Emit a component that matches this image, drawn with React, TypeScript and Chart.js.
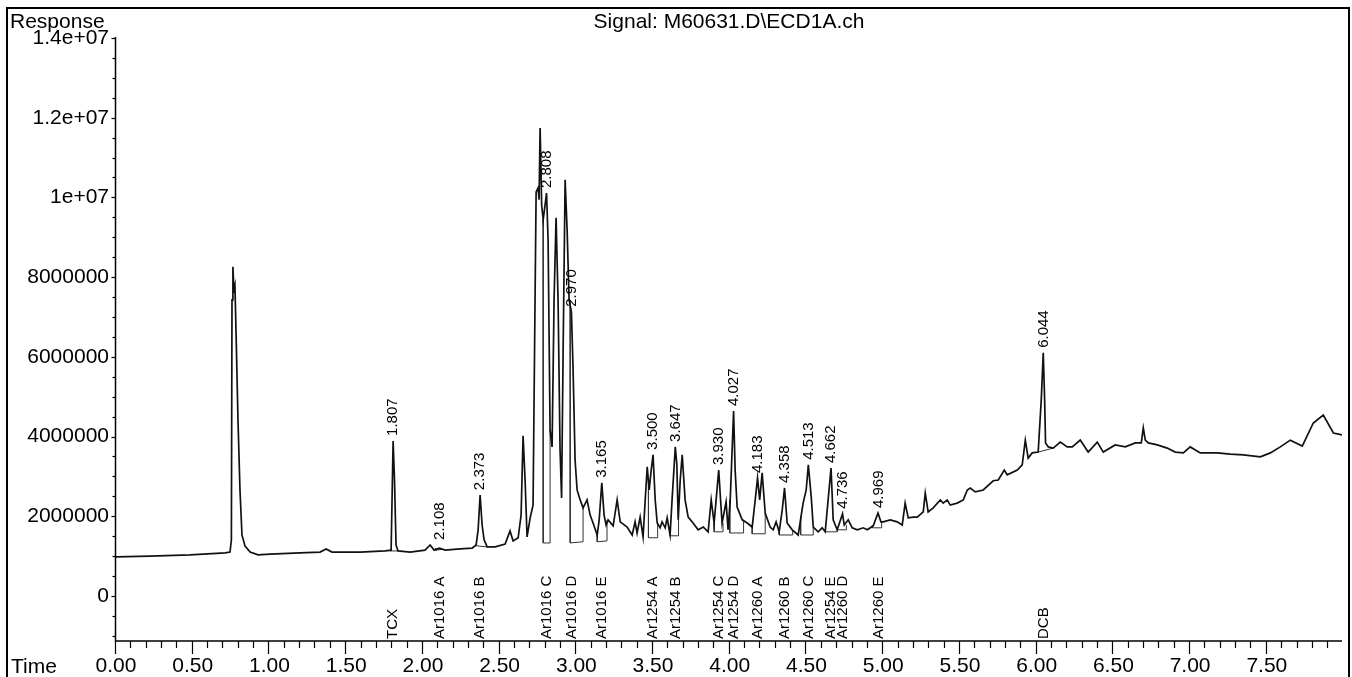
import { useEffect, useRef } from "react";
import { Chart, registerables } from "chart.js";

Chart.register(...registerables);

const FONT = '"Liberation Sans", Arial, Helvetica, sans-serif';
const TITLE = "Signal: M60631.D\\ECD1A.ch";

// ECD trace: retention time (min)
const times = [
  0.0, 0.222, 0.482, 0.711, 0.743, 0.752, 0.756, 0.762, 0.768, 0.775, 0.782, 0.795, 0.808, 0.821, 0.841, 0.874,
  0.926, 1.004, 1.199, 1.33, 1.369, 1.408, 1.591, 1.754, 1.793, 1.799, 1.806, 1.815, 1.825, 1.838, 1.917, 2.014,
  2.047, 2.073, 2.108, 2.145, 2.243, 2.321, 2.347, 2.36, 2.373, 2.386, 2.399, 2.419, 2.471, 2.536, 2.568, 2.588,
  2.621, 2.64, 2.653, 2.666, 2.679, 2.699, 2.718, 2.731, 2.738, 2.751, 2.757, 2.764, 2.774, 2.784, 2.806, 2.816,
  2.829, 2.842, 2.855, 2.868, 2.881, 2.894, 2.904, 2.914, 2.927, 2.94, 2.953, 2.968, 2.979, 2.992, 3.005, 3.025,
  3.044, 3.07, 3.09, 3.109, 3.136, 3.149, 3.166, 3.181, 3.194, 3.207, 3.24, 3.266, 3.286, 3.331, 3.364, 3.383,
  3.396, 3.416, 3.435, 3.449, 3.462, 3.475, 3.488, 3.5, 3.514, 3.527, 3.546, 3.559, 3.579, 3.592, 3.611, 3.624,
  3.645, 3.655, 3.664, 3.677, 3.69, 3.709, 3.729, 3.761, 3.794, 3.827, 3.859, 3.879, 3.898, 3.911, 3.928, 3.94,
  3.95, 3.976, 3.989, 4.003, 4.025, 4.035, 4.048, 4.081, 4.114, 4.146, 4.166, 4.181, 4.195, 4.211, 4.231, 4.263,
  4.283, 4.302, 4.322, 4.342, 4.357, 4.374, 4.407, 4.446, 4.478, 4.498, 4.512, 4.531, 4.544, 4.576, 4.602, 4.622,
  4.641, 4.66, 4.674, 4.7, 4.735, 4.746, 4.772, 4.798, 4.831, 4.87, 4.896, 4.935, 4.966, 4.985, 5.0, 5.046,
  5.091, 5.124, 5.143, 5.163, 5.196, 5.222, 5.261, 5.274, 5.293, 5.326, 5.372, 5.391, 5.417, 5.437, 5.482, 5.522,
  5.548, 5.567, 5.6, 5.652, 5.717, 5.75, 5.789, 5.808, 5.874, 5.906, 5.926, 5.945, 5.971, 6.01, 6.03, 6.043,
  6.052, 6.058, 6.076, 6.108, 6.154, 6.199, 6.232, 6.284, 6.336, 6.395, 6.434, 6.512, 6.578, 6.643, 6.682, 6.695,
  6.708, 6.728, 6.786, 6.851, 6.903, 6.956, 7.001, 7.066, 7.177, 7.262, 7.347, 7.458, 7.523, 7.588, 7.653, 7.731,
  7.803, 7.868, 7.934, 7.99,
];

// ECD trace: detector response
const responses = [
  0.98e6, 1.0e6, 1.03e6, 1.08e6, 1.1e6, 1.41e6, 7.43e6, 8.26e6, 7.68e6, 7.8e6, 6.68e6, 4.42e6, 2.66e6, 1.53e6, 1.25e6, 1.1e6,
  1.03e6, 1.05e6, 1.08e6, 1.1e6, 1.18e6, 1.1e6, 1.1e6, 1.13e6, 1.15e6, 2.41e6, 3.89e6, 2.91e6, 1.28e6, 1.13e6, 1.1e6, 1.15e6,
  1.28e6, 1.15e6, 1.2e6, 1.15e6, 1.18e6, 1.2e6, 1.28e6, 1.66e6, 2.53e6, 1.78e6, 1.41e6, 1.23e6, 1.23e6, 1.3e6, 1.63e6, 1.38e6,
  1.46e6, 2.03e6, 4.02e6, 2.91e6, 1.48e6, 1.96e6, 2.28e6, 7.43e6, 10.14e6, 10.24e6, 9.94e6, 11.74e6, 9.81e6, 9.44e6, 10.11e6, 8.93e6,
  4.17e6, 3.74e6, 7.43e6, 9.49e6, 7.43e6, 3.66e6, 2.46e6, 6.17e6, 10.44e6, 9.18e6, 7.43e6, 7.13e6, 5.67e6, 3.41e6, 2.66e6, 2.41e6,
  2.21e6, 2.41e6, 2.03e6, 1.83e6, 1.53e6, 1.91e6, 2.84e6, 2.03e6, 1.78e6, 1.91e6, 1.76e6, 2.41e6, 1.86e6, 1.73e6, 1.53e6, 1.86e6,
  1.58e6, 1.98e6, 1.48e6, 2.41e6, 3.24e6, 2.66e6, 3.16e6, 3.54e6, 2.41e6, 1.83e6, 1.71e6, 1.86e6, 1.71e6, 1.96e6, 1.53e6, 2.41e6,
  3.74e6, 3.3e6, 1.91e6, 2.91e6, 3.54e6, 2.41e6, 1.98e6, 1.83e6, 1.66e6, 1.73e6, 1.61e6, 2.41e6, 1.83e6, 2.41e6, 3.16e6, 2.41e6,
  1.83e6, 2.36e6, 1.66e6, 2.41e6, 4.64e6, 3.16e6, 2.23e6, 1.91e6, 1.83e6, 1.73e6, 2.41e6, 2.96e6, 2.41e6, 3.09e6, 2.08e6, 1.73e6,
  1.66e6, 1.86e6, 1.61e6, 2.16e6, 2.71e6, 1.83e6, 1.66e6, 1.53e6, 2.33e6, 2.66e6, 3.29e6, 2.48e6, 1.73e6, 1.61e6, 1.71e6, 1.61e6,
  2.41e6, 3.21e6, 1.91e6, 1.66e6, 2.06e6, 1.78e6, 1.91e6, 1.71e6, 1.66e6, 1.71e6, 1.66e6, 1.76e6, 2.08e6, 1.86e6, 1.86e6, 1.91e6,
  1.86e6, 1.78e6, 2.33e6, 1.96e6, 1.98e6, 1.98e6, 2.11e6, 2.58e6, 2.11e6, 2.21e6, 2.41e6, 2.33e6, 2.41e6, 2.28e6, 2.33e6, 2.41e6,
  2.66e6, 2.71e6, 2.61e6, 2.66e6, 2.89e6, 2.91e6, 3.16e6, 3.04e6, 3.16e6, 3.29e6, 3.91e6, 3.46e6, 3.59e6, 3.61e6, 4.92e6, 6.1e6,
  4.92e6, 3.84e6, 3.74e6, 3.71e6, 3.86e6, 3.74e6, 3.74e6, 3.91e6, 3.61e6, 3.86e6, 3.61e6, 3.79e6, 3.74e6, 3.84e6, 3.84e6, 4.22e6,
  3.91e6, 3.84e6, 3.79e6, 3.71e6, 3.61e6, 3.59e6, 3.74e6, 3.59e6, 3.59e6, 3.56e6, 3.54e6, 3.49e6, 3.59e6, 3.74e6, 3.91e6, 3.76e6,
  4.34e6, 4.54e6, 4.09e6, 4.04e6,
];

// Integrated peaks: retention time label and apex height
const peakTimes = [1.807, 2.108, 2.373, 2.808, 2.97, 3.165, 3.5, 3.647, 3.93, 4.027, 4.183, 4.358, 4.513, 4.662, 4.736, 4.969, 6.044];
const peakHeights = [3.89e6, 1.28e6, 2.53e6, 10.11e6, 7.13e6, 2.84e6, 3.54e6, 3.74e6, 3.16e6, 4.64e6, 2.96e6, 2.71e6, 3.29e6, 3.21e6, 2.06e6, 2.08e6, 6.1e6];

// Compound identifications written along the time axis
const compoundNames = [
  "TCX", "Ar1016 A", "Ar1016 B", "Ar1016 C", "Ar1016 D", "Ar1016 E", "Ar1254 A", "Ar1254 B", "Ar1254 C",
  "Ar1254 D", "Ar1260 A", "Ar1260 B", "Ar1260 C", "Ar1254 E", "Ar1260 D", "Ar1260 E", "DCB",
];
const compoundTimes = [1.807, 2.108, 2.373, 2.808, 2.97, 3.165, 3.5, 3.647, 3.93, 4.027, 4.183, 4.358, 4.513, 4.662, 4.736, 4.969, 6.044];

// Integration events: start/end times, baseline levels and trace level at each end
const intStart = [1.786, 2.085, 2.345, 2.784, 2.96, 3.136, 3.47, 3.611, 3.898, 4.0, 4.146, 4.322, 4.462, 4.622, 4.7, 4.93, 6.01];
const intEnd = [1.838, 2.13, 2.42, 2.829, 3.044, 3.2, 3.53, 3.666, 3.956, 4.09, 4.231, 4.41, 4.544, 4.7, 4.76, 4.99, 6.108];
const intBaseStart = [1.13e6, 1.15e6, 1.26e6, 1.33e6, 1.33e6, 1.36e6, 1.46e6, 1.51e6, 1.61e6, 1.58e6, 1.56e6, 1.53e6, 1.53e6, 1.61e6, 1.66e6, 1.71e6, 3.61e6];
const intBaseEnd = [1.13e6, 1.17e6, 1.23e6, 1.33e6, 1.36e6, 1.38e6, 1.46e6, 1.51e6, 1.61e6, 1.58e6, 1.56e6, 1.53e6, 1.53e6, 1.61e6, 1.66e6, 1.71e6, 3.71e6];
const intSigStart = [1.15e6, 1.2e6, 1.28e6, 9.44e6, 7.4e6, 1.53e6, 2.9e6, 1.53e6, 1.83e6, 2.41e6, 1.73e6, 1.61e6, 2.0e6, 1.61e6, 1.66e6, 1.76e6, 3.61e6];
const intSigEnd = [1.13e6, 1.16e6, 1.23e6, 4.17e6, 2.21e6, 1.9e6, 1.83e6, 2.05e6, 1.83e6, 1.91e6, 2.08e6, 1.66e6, 1.73e6, 1.66e6, 1.78e6, 1.86e6, 3.71e6];

// Labelled axis ticks
const xTickValues = [0, 0.5, 1, 1.5, 2, 2.5, 3, 3.5, 4, 4.5, 5, 5.5, 6, 6.5, 7, 7.5];
const yTickValues = [0, 2e6, 4e6, 6e6, 8e6, 1e7, 1.2e7, 1.4e7];

const X_MIN = 0;
const X_MAX = 7.99;
const Y_MIN = -1.13e6;
const Y_MAX = 1.4e7;

function formatResponse(v: number): string {
  if (v === 0) return "0";
  if (Math.abs(v) >= 1e7) return v.toExponential().replace(/e\+(\d)$/, "e+0$1");
  return String(Math.round(v));
}

const framePlugin = {
  id: "frame",
  beforeDraw(chart: any) {
    const { ctx, width, height } = chart;
    ctx.save();
    ctx.fillStyle = "#fff";
    ctx.fillRect(0, 0, width, height);
    ctx.restore();
  },
  afterDraw(chart: any) {
    const { ctx, chartArea: a, scales } = chart;
    const x = scales.x;
    const y = scales.y;
    ctx.save();
    ctx.strokeStyle = "#000";
    ctx.fillStyle = "#000";

    // page frame
    ctx.lineWidth = 2;
    ctx.beginPath();
    ctx.moveTo(7, 677);
    ctx.lineTo(7, 8);
    ctx.lineTo(1349, 8);
    ctx.lineTo(1349, 677);
    ctx.stroke();

    // axes
    ctx.lineWidth = 1.5;
    ctx.beginPath();
    ctx.moveTo(a.left - 0.5, a.top - 1);
    ctx.lineTo(a.left - 0.5, a.bottom);
    ctx.lineTo(a.right, a.bottom);
    ctx.stroke();

    // time ticks: every 0.1 min, longer every 0.5 min
    ctx.lineWidth = 1.2;
    const nX = Math.floor((X_MAX - X_MIN) * 10 + 1e-6);
    for (let k = 0; k <= nX; k++) {
      const px = Math.round(x.getPixelForValue(X_MIN + k / 10)) - 0.5;
      const len = k % 5 === 0 ? 13 : 7;
      ctx.beginPath();
      ctx.moveTo(px, a.bottom);
      ctx.lineTo(px, a.bottom + len);
      ctx.stroke();
    }

    // response ticks: every 5e5, longer every 2e6
    for (let v = Math.ceil(Y_MIN / 5e5) * 5e5; v <= Y_MAX + 1; v += 5e5) {
      const py = Math.round(y.getPixelForValue(v)) + 0.5;
      const len = Math.abs(v % 2e6) < 1 ? 4 : 3;
      ctx.beginPath();
      ctx.moveTo(a.left - 0.5, py);
      ctx.lineTo(a.left - 0.5 - len, py);
      ctx.stroke();
    }

    // header and axis captions
    ctx.font = `21px ${FONT}`;
    ctx.textBaseline = "alphabetic";
    ctx.textAlign = "left";
    ctx.fillText("Response", 10, 28);
    ctx.textAlign = "center";
    ctx.fillText(TITLE, (a.left + a.right) / 2, 28);
    ctx.textAlign = "left";
    ctx.textBaseline = "middle";
    ctx.fillText("Time", 11, 667);

    // retention-time labels above the integrated peaks
    ctx.font = `15px ${FONT}`;
    ctx.textAlign = "left";
    ctx.textBaseline = "middle";
    peakTimes.forEach((t, i) => {
      const px = x.getPixelForValue(t);
      const py = y.getPixelForValue(peakHeights[i]) - 5;
      ctx.save();
      ctx.translate(px, py);
      ctx.rotate(-Math.PI / 2);
      ctx.fillText(t.toFixed(3), 0, 0);
      ctx.restore();
    });

    // compound names standing on the time axis
    compoundNames.forEach((name, i) => {
      const px = x.getPixelForValue(compoundTimes[i]);
      ctx.save();
      ctx.translate(px, a.bottom - 2);
      ctx.rotate(-Math.PI / 2);
      ctx.fillText(name, 0, 0);
      ctx.restore();
    });

    ctx.restore();
  },
};

export default function App() {
  const canvasRef = useRef<HTMLCanvasElement | null>(null);

  useEffect(() => {
    const canvas = canvasRef.current;
    if (!canvas) return;

    const trace = times.map((t, i) => ({ x: t, y: responses[i] }));
    const integrationSets = intStart.map((s, i) => ({
      data: [
        { x: s, y: intSigStart[i] },
        { x: s, y: intBaseStart[i] },
        { x: intEnd[i], y: intBaseEnd[i] },
        { x: intEnd[i], y: intSigEnd[i] },
      ],
      borderColor: "#333",
      borderWidth: 1,
      pointRadius: 0,
      tension: 0,
      fill: false,
    }));

    const chart = new Chart(canvas, {
      type: "line",
      data: {
        datasets: [
          {
            data: trace,
            borderColor: "#111",
            borderWidth: 1.7,
            pointRadius: 0,
            tension: 0,
            fill: false,
          },
          ...integrationSets,
        ],
      },
      options: {
        animation: false,
        responsive: false,
        events: [],
        layout: { padding: { top: 38, right: 10, left: 0, bottom: 0 } },
        plugins: {
          legend: { display: false },
          tooltip: { enabled: false },
          title: { display: false },
        },
        scales: {
          x: {
            type: "linear",
            min: X_MIN,
            max: X_MAX,
            grid: { display: false, drawTicks: false },
            border: { display: false },
            afterBuildTicks: (s: any) => {
              s.ticks = xTickValues.map((v) => ({ value: v }));
            },
            ticks: {
              autoSkip: false,
              maxRotation: 0,
              minRotation: 0,
              padding: 13,
              color: "#000",
              font: { family: FONT, size: 21 },
              callback: (v: any) => Number(v).toFixed(2),
            },
            afterFit: (s: any) => {
              s.height = 36;
            },
          },
          y: {
            type: "linear",
            min: Y_MIN,
            max: Y_MAX,
            grid: { display: false, drawTicks: false },
            border: { display: false },
            afterBuildTicks: (s: any) => {
              s.ticks = yTickValues.map((v) => ({ value: v }));
            },
            ticks: {
              autoSkip: false,
              padding: 7,
              color: "#000",
              font: { family: FONT, size: 21 },
              callback: (v: any) => formatResponse(Number(v)),
            },
            afterFit: (s: any) => {
              s.width = 116;
            },
          },
        },
      },
      plugins: [framePlugin],
    } as any);

    return () => chart.destroy();
  }, []);

  return (
    <div style={{ position: "fixed", left: 0, top: 0, width: 1352, height: 677, background: "#fff" }}>
      <canvas ref={canvasRef} width={1352} height={677} style={{ display: "block" }} />
    </div>
  );
}
